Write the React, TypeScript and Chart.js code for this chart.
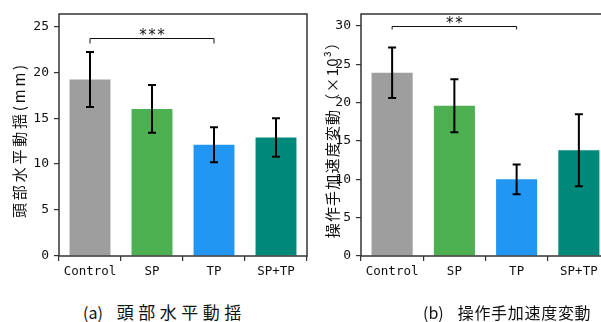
import { useEffect, useRef } from "react";
import { Chart, registerables } from "chart.js";

Chart.register(...registerables);

// ---- data ----
const categories = ["Control", "SP", "TP", "SP+TP"];
const headSwayMeans = [19.2, 16.0, 12.1, 12.9];
const headSwayErrors = [3.0, 2.6, 1.9, 2.1];
const accelMeans = [23.9, 19.6, 10.0, 13.8];
const accelErrors = [3.3, 3.45, 1.95, 4.7];
const headSwayTicks = [0, 5, 10, 15, 20, 25];
const accelTicks = [0, 5, 10, 15, 20, 25, 30];
const barColors = ["#9e9e9e", "#4caf50", "#2196f3", "#00897b"];

const TICK_FONT = "'DejaVu Sans Mono', monospace";
const CJK_FONT = "'Noto Sans CJK JP', sans-serif";

const overlayPlugin = {
  id: "overlay",
  afterDatasetsDraw(chart: any, _args: any, opts: any) {
    const ctx = chart.ctx as CanvasRenderingContext2D;
    const meta = chart.getDatasetMeta(0);
    const y = chart.scales.y;
    const a = chart.chartArea;
    ctx.save();
    // error bars
    ctx.strokeStyle = "#000";
    ctx.lineWidth = 2;
    opts.errors.forEach((e: number, i: number) => {
      const x = meta.data[i].x;
      const v = opts.means[i];
      const yt = y.getPixelForValue(v + e);
      const yb = y.getPixelForValue(v - e);
      ctx.beginPath();
      ctx.moveTo(x, yt);
      ctx.lineTo(x, yb);
      ctx.moveTo(x - 4, yt);
      ctx.lineTo(x + 4, yt);
      ctx.moveTo(x - 4, yb);
      ctx.lineTo(x + 4, yb);
      ctx.stroke();
    });
    // frame
    ctx.strokeStyle = "#333";
    ctx.lineWidth = 1.5;
    ctx.strokeRect(a.left, a.top, a.right - a.left, a.bottom - a.top);
    // significance bracket
    const b = opts.bracket;
    const x1 = meta.data[b.from].x;
    const x2 = meta.data[b.to].x;
    const yl = Math.round(y.getPixelForValue(b.value)) + 0.5;
    ctx.strokeStyle = "#111";
    ctx.lineWidth = 1;
    ctx.beginPath();
    ctx.moveTo(x1, yl + b.drop);
    ctx.lineTo(x1, yl);
    ctx.lineTo(x2, yl);
    ctx.lineTo(x2, yl + b.drop);
    ctx.stroke();
    ctx.fillStyle = "#111";
    ctx.font = `15px ${TICK_FONT}`;
    ctx.textAlign = "center";
    ctx.textBaseline = "alphabetic";
    ctx.fillText(b.label, (x1 + x2) / 2, yl + 1);
    // y title
    const t = opts.title;
    ctx.translate(t.x, t.y);
    ctx.rotate(-Math.PI / 2);
    (ctx as any).letterSpacing = `${t.spacing}px`;
    ctx.font = `${t.size}px ${CJK_FONT}`;
    ctx.fillStyle = "#111";
    ctx.textAlign = "center";
    ctx.textBaseline = "middle";
    ctx.fillText(t.text, 0, 0);
    ctx.restore();
  },
};

type Cfg = {
  width: number;
  height: number;
  axisWidth: number;
  padRight: number;
  yMax: number;
  ticks: number[];
  means: number[];
  errors: number[];
  bracket: any;
  title: any;
};

function BarPanel({ cfg, left }: { cfg: Cfg; left: number }) {
  const ref = useRef<HTMLCanvasElement | null>(null);
  useEffect(() => {
    if (!ref.current) return;
    const chart = new Chart(ref.current, {
      type: "bar",
      data: {
        labels: categories,
        datasets: [
          {
            data: cfg.means,
            backgroundColor: barColors,
            borderWidth: 0,
            barPercentage: 0.66,
            categoryPercentage: 1,
          },
        ],
      },
      options: {
        responsive: false,
        animation: false,
        layout: { padding: { top: 14, right: cfg.padRight, left: 0, bottom: 0 } },
        plugins: {
          legend: { display: false },
          tooltip: { enabled: false },
          overlay: {
            means: cfg.means,
            errors: cfg.errors,
            bracket: cfg.bracket,
            title: cfg.title,
          },
        } as any,
        scales: {
          x: {
            offset: true,
            grid: {
              display: true,
              drawOnChartArea: false,
              drawTicks: true,
              tickLength: 5,
              color: "#333",
              lineWidth: 1.2,
            },
            border: { display: false },
            ticks: {
              color: "#111",
              padding: 3,
              font: { family: TICK_FONT, size: 12.5 },
            },
            afterFit: (s: any) => {
              s.height = cfg.height - 256;
            },
          },
          y: {
            min: 0,
            max: cfg.yMax,
            grid: {
              display: true,
              drawOnChartArea: false,
              drawTicks: true,
              tickLength: 5,
              color: "#333",
              lineWidth: 1.2,
            },
            border: { display: false },
            ticks: {
              color: "#111",
              padding: 5,
              font: { family: TICK_FONT, size: 13 },
            },
            afterBuildTicks: (s: any) => {
              s.ticks = cfg.ticks.map((v) => ({ value: v }));
            },
            afterFit: (s: any) => {
              s.width = cfg.axisWidth;
            },
          },
        },
      },
      plugins: [overlayPlugin as any],
    });
    return () => chart.destroy();
  }, [cfg]);
  return (
    <canvas
      ref={ref}
      width={cfg.width}
      height={cfg.height}
      style={{ position: "absolute", left, top: 0, width: cfg.width, height: cfg.height }}
    />
  );
}

const leftCfg: Cfg = {
  width: 310,
  height: 290,
  axisWidth: 59,
  padRight: 3,
  yMax: 26.33,
  ticks: headSwayTicks,
  means: headSwayMeans,
  errors: headSwayErrors,
  bracket: { from: 0, to: 2, value: 23.7, drop: 5, label: "***" },
  title: { text: "頭部水平動揺(mm)", x: 19, y: 140, size: 15, spacing: 2.8 },
};

const rightCfg: Cfg = {
  width: 312,
  height: 290,
  axisWidth: 61,
  padRight: 2,
  yMax: 31.57,
  ticks: accelTicks,
  means: accelMeans,
  errors: accelErrors,
  bracket: { from: 0, to: 2, value: 30.0, drop: 3, label: "**" },
  title: { text: "操作手加速度変動（×10³）", x: 32, y: 136, size: 15, spacing: 1.2 },
};

export default function App() {
  return (
    <div
      style={{
        position: "fixed",
        left: 0,
        top: 0,
        width: 601,
        height: 322,
        overflow: "hidden",
        background: "#fff",
      }}
    >
      <BarPanel cfg={leftCfg} left={0} />
      <BarPanel cfg={rightCfg} left={300} />
      <div
        style={{
          position: "absolute",
          left: 83,
          top: 302,
          fontFamily: CJK_FONT,
          fontSize: 17,
          lineHeight: "20px",
          color: "#111",
          whiteSpace: "nowrap",
        }}
      >
        <span style={{ fontSize: 16 }}>(a)</span>
        <span style={{ marginLeft: 14, letterSpacing: 4.5 }}>頭部水平動揺</span>
      </div>
      <div
        style={{
          position: "absolute",
          left: 423,
          top: 302,
          fontFamily: CJK_FONT,
          fontSize: 16,
          lineHeight: "20px",
          color: "#111",
          whiteSpace: "nowrap",
        }}
      >
        <span>(b)</span>
        <span style={{ marginLeft: 14, letterSpacing: 0.7 }}>操作手加速度変動</span>
      </div>
    </div>
  );
}
